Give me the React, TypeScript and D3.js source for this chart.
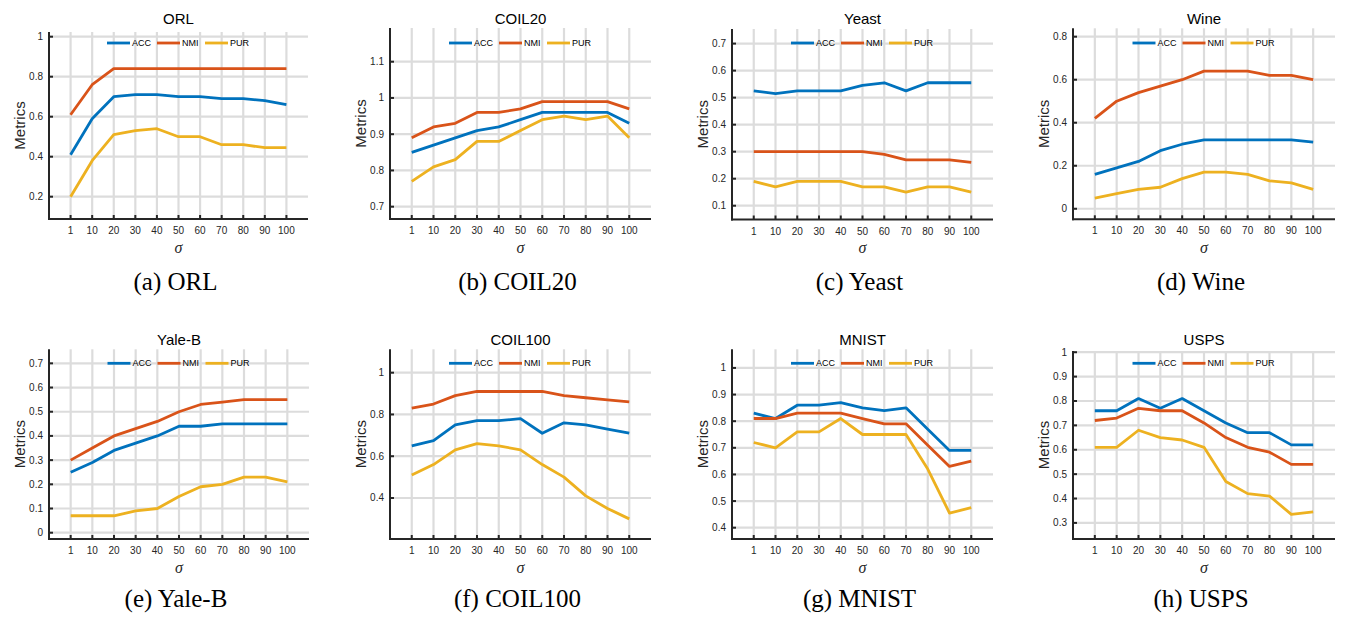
import React from "react";
import * as d3 from "d3";

// sigma values on the x axis (categorical)
const sigmas = ["1", "10", "20", "30", "40", "50", "60", "70", "80", "90", "100"];
const metricNames = ["ACC", "NMI", "PUR"];
const metricColors = ["#0072BD", "#D95319", "#EDB120"];

const orlAcc = [0.41, 0.59, 0.7, 0.71, 0.71, 0.7, 0.7, 0.69, 0.69, 0.68, 0.66];
const orlNmi = [0.61, 0.76, 0.84, 0.84, 0.84, 0.84, 0.84, 0.84, 0.84, 0.84, 0.84];
const orlPur = [0.2, 0.38, 0.51, 0.53, 0.54, 0.5, 0.5, 0.46, 0.46, 0.445, 0.445];

const coil20Acc = [0.85, 0.87, 0.89, 0.91, 0.92, 0.94, 0.96, 0.96, 0.96, 0.96, 0.93];
const coil20Nmi = [0.89, 0.92, 0.93, 0.96, 0.96, 0.97, 0.99, 0.99, 0.99, 0.99, 0.97];
const coil20Pur = [0.77, 0.81, 0.83, 0.88, 0.88, 0.91, 0.94, 0.95, 0.94, 0.95, 0.89];

const yeastAcc = [0.525, 0.515, 0.525, 0.525, 0.525, 0.545, 0.555, 0.525, 0.555, 0.555, 0.555];
const yeastNmi = [0.3, 0.3, 0.3, 0.3, 0.3, 0.3, 0.29, 0.27, 0.27, 0.27, 0.26];
const yeastPur = [0.19, 0.17, 0.19, 0.19, 0.19, 0.17, 0.17, 0.15, 0.17, 0.17, 0.15];

const wineAcc = [0.16, 0.19, 0.22, 0.27, 0.3, 0.32, 0.32, 0.32, 0.32, 0.32, 0.31];
const wineNmi = [0.42, 0.5, 0.54, 0.57, 0.6, 0.64, 0.64, 0.64, 0.62, 0.62, 0.6];
const winePur = [0.05, 0.07, 0.09, 0.1, 0.14, 0.17, 0.17, 0.16, 0.13, 0.12, 0.09];

const yaleAcc = [0.25, 0.29, 0.34, 0.37, 0.4, 0.44, 0.44, 0.45, 0.45, 0.45, 0.45];
const yaleNmi = [0.3, 0.35, 0.4, 0.43, 0.46, 0.5, 0.53, 0.54, 0.55, 0.55, 0.55];
const yalePur = [0.07, 0.07, 0.07, 0.09, 0.1, 0.15, 0.19, 0.2, 0.23, 0.23, 0.21];

const coil100Acc = [0.65, 0.675, 0.75, 0.77, 0.77, 0.78, 0.71, 0.76, 0.75, 0.73, 0.71];
const coil100Nmi = [0.83, 0.85, 0.89, 0.91, 0.91, 0.91, 0.91, 0.89, 0.88, 0.87, 0.86];
const coil100Pur = [0.51, 0.56, 0.63, 0.66, 0.65, 0.63, 0.56, 0.5, 0.41, 0.35, 0.3];

const mnistAcc = [0.83, 0.81, 0.86, 0.86, 0.87, 0.85, 0.84, 0.85, 0.77, 0.69, 0.69];
const mnistNmi = [0.81, 0.81, 0.83, 0.83, 0.83, 0.81, 0.79, 0.79, 0.71, 0.63, 0.65];
const mnistPur = [0.72, 0.7, 0.76, 0.76, 0.81, 0.75, 0.75, 0.75, 0.62, 0.455, 0.475];

const uspsAcc = [0.76, 0.76, 0.81, 0.77, 0.81, 0.76, 0.71, 0.67, 0.67, 0.62, 0.62];
const uspsNmi = [0.72, 0.73, 0.77, 0.76, 0.76, 0.71, 0.65, 0.61, 0.59, 0.54, 0.54];
const uspsPur = [0.61, 0.61, 0.68, 0.65, 0.64, 0.61, 0.47, 0.42, 0.41, 0.335, 0.345];

const titles = ["ORL", "COIL20", "Yeast", "Wine", "Yale-B", "COIL100", "MNIST", "USPS"];
const captions = ["(a) ORL", "(b) COIL20", "(c) Yeast", "(d) Wine", "(e) Yale-B", "(f) COIL100", "(g) MNIST", "(h) USPS"];

const yTicksOrl = [0.2, 0.4, 0.6, 0.8, 1];
const yTicksCoil20 = [0.7, 0.8, 0.9, 1, 1.1];
const yTicksYeast = [0.1, 0.2, 0.3, 0.4, 0.5, 0.6, 0.7];
const yTicksWine = [0, 0.2, 0.4, 0.6, 0.8];
const yTicksYale = [0, 0.1, 0.2, 0.3, 0.4, 0.5, 0.6, 0.7];
const yTicksCoil100 = [0.4, 0.6, 0.8, 1];
const yTicksMnist = [0.4, 0.5, 0.6, 0.7, 0.8, 0.9, 1];
const yTicksUsps = [0.3, 0.4, 0.5, 0.6, 0.7, 0.8, 0.9, 1];

const yLimits = [
  [0.0885, 1.0235],
  [0.666, 1.193],
  [0.049, 0.754],
  [-0.049, 0.839],
  [-0.026, 0.758],
  [0.2036, 1.112],
  [0.3575, 1.07],
  [0.234, 1.005],
];

const seriesList = [
  [orlAcc, orlNmi, orlPur],
  [coil20Acc, coil20Nmi, coil20Pur],
  [yeastAcc, yeastNmi, yeastPur],
  [wineAcc, wineNmi, winePur],
  [yaleAcc, yaleNmi, yalePur],
  [coil100Acc, coil100Nmi, coil100Pur],
  [mnistAcc, mnistNmi, mnistPur],
  [uspsAcc, uspsNmi, uspsPur],
];
const yTicksList = [yTicksOrl, yTicksCoil20, yTicksYeast, yTicksWine, yTicksYale, yTicksCoil100, yTicksMnist, yTicksUsps];

// plot boxes [left, top, right, bottom] in page pixels
const boxes = [
  [49, 32, 308, 219],
  [390, 28, 651, 219],
  [732, 29, 993, 219.5],
  [1073, 28.3, 1335, 219.3],
  [49, 349.3, 309, 539],
  [390, 349.3, 651, 539],
  [732, 349.3, 993, 539],
  [1073, 351, 1335, 539],
];

const sans = "'Liberation Sans', Arial, Helvetica, sans-serif";
const serif = "'Liberation Serif', 'Times New Roman', serif";
const axisColor = "#262626";
const gridColor = "#dcdcdc";

function Panel({ idx }: { idx: number }) {
  const [l, t, r, b] = boxes[idx];
  const row = idx < 4 ? 0 : 1;
  const x = d3.scaleLinear().domain([0, sigmas.length + 1]).range([l, r]);
  const y = d3.scaleLinear().domain(yLimits[idx]).range([b, t]);
  const line = d3
    .line<number>()
    .x((_, i) => x(i + 1))
    .y((d) => y(d));
  const cx = (l + r) / 2;
  const legendY = row === 0 ? 43 : 363.3;
  const legendOffsets = [-71.5, -21.5, 26.5];

  return (
    <g>
      {/* grid */}
      {sigmas.map((s, i) => (
        <line key={"vg" + s} x1={x(i + 1)} x2={x(i + 1)} y1={b} y2={t} stroke={gridColor} strokeWidth={2.2} />
      ))}
      {yTicksList[idx].map((v) => (
        <line key={"hg" + v} x1={l} x2={r} y1={y(v)} y2={y(v)} stroke={gridColor} strokeWidth={2.2} />
      ))}

      {/* series */}
      {seriesList[idx].map((vals, k) => (
        <path key={metricNames[k]} d={line(vals) || ""} fill="none" stroke={metricColors[k]} strokeWidth={2.8} strokeLinejoin="round" />
      ))}

      {/* axes */}
      <line x1={l} x2={l} y1={b + 1} y2={t} stroke={axisColor} strokeWidth={2} />
      <line x1={l - 1} x2={r} y1={b} y2={b} stroke={axisColor} strokeWidth={2} />
      {sigmas.map((s, i) => (
        <g key={"xt" + s}>
          <line x1={x(i + 1)} x2={x(i + 1)} y1={b} y2={b - 4} stroke={axisColor} strokeWidth={2} />
          <text x={x(i + 1)} y={b + 15} textAnchor="middle" fontSize={10} fill={axisColor} fontFamily={sans}>
            {s}
          </text>
        </g>
      ))}
      {yTicksList[idx].map((v) => (
        <g key={"yt" + v}>
          <line x1={l} x2={l + 4} y1={y(v)} y2={y(v)} stroke={axisColor} strokeWidth={2} />
          <text x={l - 6} y={y(v)} dy="0.35em" textAnchor="end" fontSize={10} fill={axisColor} fontFamily={sans}>
            {d3.format("~g")(v)}
          </text>
        </g>
      ))}

      {/* legend */}
      {metricNames.map((m, k) => (
        <g key={"lg" + m}>
          <line x1={cx + legendOffsets[k]} x2={cx + legendOffsets[k] + 23} y1={legendY} y2={legendY} stroke={metricColors[k]} strokeWidth={2.8} />
          <text x={cx + legendOffsets[k] + 25} y={legendY} dy="0.35em" fontSize={9} fill="#000" fontFamily={sans}>
            {m}
          </text>
        </g>
      ))}

      {/* labels */}
      <text x={cx} y={row === 0 ? 24 : 345} textAnchor="middle" fontSize={15} fill="#000" fontFamily={sans}>
        {titles[idx]}
      </text>
      <text
        transform={`translate(${l - 24},${(t + b) / 2}) rotate(-90)`}
        textAnchor="middle"
        fontSize={15}
        fill={axisColor}
        fontFamily={sans}
      >
        Metrics
      </text>
      <text x={cx} y={row === 0 ? 253 : 573} textAnchor="middle" fontSize={16} fontStyle="italic" fill={axisColor} fontFamily={serif}>
        σ
      </text>
      <text x={cx - 3} y={row === 0 ? 290 : 607} textAnchor="middle" fontSize={25} fill="#000" fontFamily={serif}>
        {captions[idx]}
      </text>
    </g>
  );
}

export default function App() {
  return (
    <svg
      width={1346}
      height={617}
      style={{ position: "absolute", left: 0, top: 0, background: "#fff" }}
    >
      {titles.map((_, i) => (
        <Panel key={titles[i]} idx={i} />
      ))}
    </svg>
  );
}
